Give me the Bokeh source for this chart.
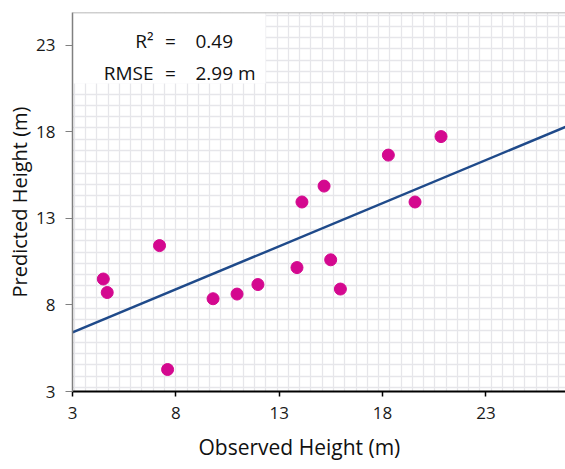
import numpy as np
from bokeh.plotting import figure
from bokeh.models import Range1d, Label, BoxAnnotation, FixedTicker, Span, Title
from bokeh.embed import file_html
from bokeh.resources import INLINE

# ---- data ----
observed = [4.49, 4.68, 7.21, 7.60, 9.80, 10.96, 11.97, 13.86, 14.10, 15.17, 15.49, 15.96, 18.28, 19.57, 20.83]
predicted = [9.50, 8.72, 11.43, 4.27, 8.36, 8.63, 9.18, 10.16, 13.95, 14.87, 10.61, 8.92, 16.66, 13.95, 17.73]
fit_slope = 0.498
fit_intercept = 4.92
x_ticks = [3, 8, 13, 18, 23]
y_ticks = [3, 8, 13, 18, 23]
stats_left = ["R²", "RMSE"]
stats_right = ["0.49", "2.99 m"]

FONT = "Open Sans"
x0, x1 = 3, 26.85
y0, y1 = 3, 24.9

p = figure(width=565, height=469, x_range=Range1d(x0, x1), y_range=Range1d(y0, y1),
           output_backend="svg", toolbar_location=None,
           min_border_left=72, min_border_right=0, min_border_top=12, min_border_bottom=78)
p.outline_line_color = None
p.background_fill_color = "white"

# graph-paper grid (square cells)
p.xgrid.ticker = FixedTicker(ticks=list(np.arange(3.09, 27, 0.545)))
p.ygrid.ticker = FixedTicker(ticks=list(np.arange(3.236, 25, 0.652)))
for g in (p.xgrid, p.ygrid):
    g.grid_line_color = "#e6e6ea"
    g.grid_line_width = 1.3

# axes
p.xaxis.ticker = FixedTicker(ticks=x_ticks)
p.yaxis.ticker = FixedTicker(ticks=y_ticks)
p.xaxis.minor_tick_line_color = None
p.yaxis.minor_tick_line_color = None
p.xaxis.axis_line_color = "black"
p.xaxis.axis_line_width = 2
p.xaxis.major_tick_line_color = "black"
p.xaxis.major_tick_line_width = 1.5
p.xaxis.major_tick_out = 5
p.xaxis.major_tick_in = 0
p.yaxis.axis_line_color = "#808080"
p.yaxis.axis_line_width = 1.5
p.yaxis.major_tick_line_color = "#808080"
p.yaxis.major_tick_out = 7
p.yaxis.major_tick_in = 0
for ax in (p.xaxis, p.yaxis):
    ax.major_label_text_font = FONT
    ax.major_label_text_font_size = "17px"
    ax.major_label_text_color = "#1a1a1a"
    ax.axis_label_text_font = FONT
    ax.axis_label_text_font_size = "20px"
    ax.axis_label_text_font_style = "normal"
    ax.axis_label_text_color = "#111111"
p.xaxis.major_label_standoff = 10
p.yaxis.major_label_standoff = 10
p.yaxis.axis_label = "Predicted Height (m)"
p.yaxis.axis_label_standoff = 0

# x-axis title (slightly left of frame centre, as in the source)
p.add_layout(Title(text="Observed Height (m)", align="left", offset=126, standoff=18,
                   text_font=FONT, text_font_size="21px", text_font_style="normal",
                   text_color="#111111"), "below")

# top border
p.add_layout(Span(location=y1, dimension="width", line_color="#a0a0a0", line_width=1.5))

# white box behind the stats text
p.add_layout(BoxAnnotation(left=x0, right=12.34, bottom=20.8, top=y1,
                           fill_color="white", fill_alpha=1.0, line_color=None, level="underlay"))

# trend line
xs = np.array([x0, x1])
p.line(xs, fit_slope * xs + fit_intercept, line_color="#1f4a8a", line_width=2.5)

# points
p.scatter(observed, predicted, size=12, color="#d4088f")

# stats text
for i, (a, b) in enumerate(zip(stats_left, stats_right)):
    yb = 23.24 - i * 1.85
    p.add_layout(Label(x=6.92, y=yb, text=a, text_align="right", text_baseline="alphabetic",
                       text_font=FONT, text_font_size="19px", text_color="#111111"))
    p.add_layout(Label(x=7.74, y=yb, text="=", text_align="center", text_baseline="alphabetic",
                       text_font=FONT, text_font_size="19px", text_color="#111111"))
    p.add_layout(Label(x=8.95, y=yb, text=b, text_align="left", text_baseline="alphabetic",
                       text_font=FONT, text_font_size="19px", text_color="#111111"))

open("out.html", "w").write(file_html(p, INLINE))
